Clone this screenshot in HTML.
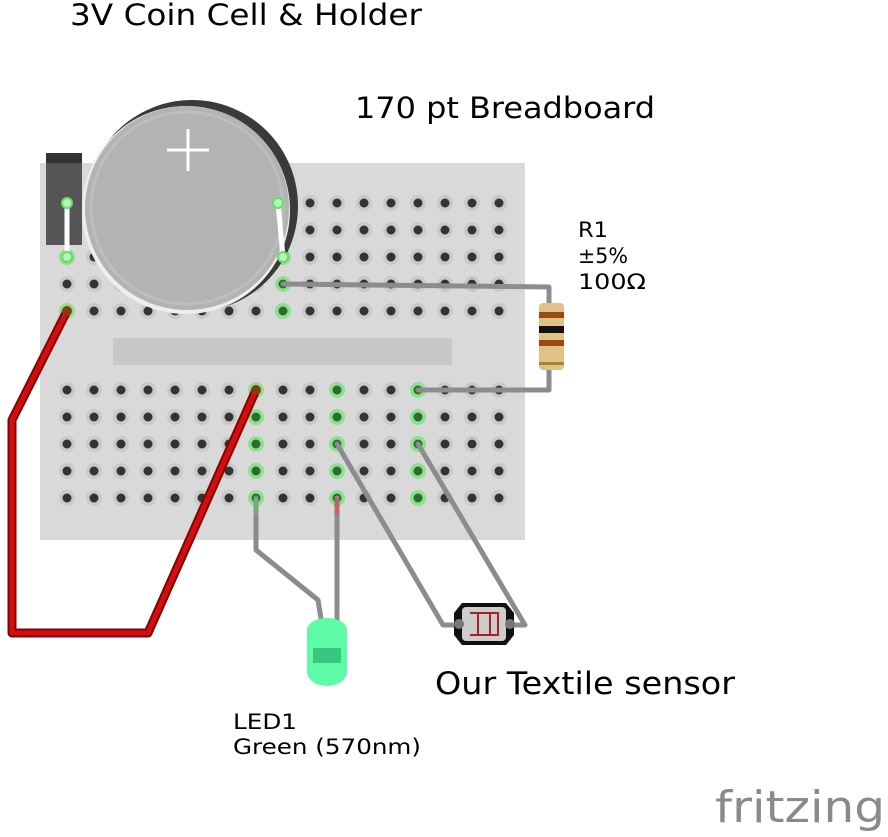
<!DOCTYPE html>
<html><head><style>body{margin:0;background:#fff}svg{display:block}</style></head><body>
<svg width="888" height="837" xmlns="http://www.w3.org/2000/svg" font-family="DejaVu Sans, Liberation Sans, sans-serif">
<rect x="40" y="163" width="485" height="377" fill="#d9d9d9"/>
<rect x="113" y="338" width="339" height="27" fill="#c8c8c8"/>
<g id="holegrid"></g>
<!-- battery -->
<rect x="46" y="153" width="36" height="92" fill="#555"/>
<rect x="46" y="153" width="36" height="10" fill="#333"/>
<circle cx="192" cy="206" r="106" fill="#3a3a3a"/>
<circle cx="186" cy="210" r="104" fill="#eee"/>
<circle cx="187" cy="208" r="102" fill="#b3b3b3"/>
<circle cx="187" cy="208" r="96" fill="none" stroke="#bdbdbd" stroke-width="3"/>
<path d="M167 150h42M188 129v42" stroke="#fff" stroke-width="3"/>
<line x1="67" y1="203" x2="67" y2="257" stroke="#fff" stroke-width="5"/>
<line x1="278" y1="203" x2="283" y2="257" stroke="#fff" stroke-width="5"/>
<g fill="#b5f5b5" stroke="#6d6" stroke-width="2"><circle cx="67" cy="203" r="5"/><circle cx="278" cy="203" r="5"/><circle cx="67" cy="257" r="5"/><circle cx="283" cy="257" r="5"/></g>
<g fill="none" stroke="#8c8c8c" stroke-width="5" stroke-linejoin="round" stroke-linecap="round">
<polyline points="283,284 549,287 549,305"/>
<polyline points="549,366 549,390 418,390"/>
<polyline points="256,498 256,550 318,600 322,625"/>
<polyline points="337,498 337,625"/>
<polyline points="337,444 443,625 458,625"/>
<polyline points="418,444 525,625 510,625"/>
</g>
<line x1="337" y1="498" x2="337" y2="515" stroke="#b66" stroke-width="5"/>
<line x1="256" y1="498" x2="256" y2="515" stroke="#7a7" stroke-width="5"/>
<rect x="539" y="303" width="25" height="67" rx="4" fill="#e2c08a"/>
<rect x="539" y="312" width="25" height="6" fill="#9a4a10"/>
<rect x="539" y="326" width="25" height="7" fill="#111"/>
<rect x="539" y="340" width="25" height="6" fill="#9a4a10"/>
<rect x="539" y="362" width="25" height="3" fill="#9c8a30"/>
<path d="M307 630a20 12 0 0 1 40 0v42a20 14 0 0 1 -40 0z" fill="#5dfba6"/>
<rect x="313" y="648" width="28" height="15" fill="#3cc57f"/>
<path d="M462 603h44l8 10v22l-8 10h-44l-8-10v-22z" fill="#111"/>
<rect x="462" y="607" width="44" height="34" rx="4" fill="#ccc"/>
<path d="M470 613h28v22h-28M478 613v22M490 613v22" fill="none" stroke="#a22" stroke-width="2"/>
<circle cx="459" cy="624" r="5" fill="#777"/><circle cx="510" cy="624" r="5" fill="#777"/>
<polyline points="67,311 12,420 12,633 148,633 256,390" fill="none" stroke="#800" stroke-width="9" stroke-linejoin="round"/>
<polyline points="67,311 12,420 12,633 148,633 256,390" fill="none" stroke="#d01010" stroke-width="5" stroke-linejoin="round"/>
<g fill="#8a3a10"><circle cx="67" cy="311" r="5"/><circle cx="256" cy="390" r="5"/></g>
<g fill="#000">
<text x="70" y="25" font-size="29" textLength="352" lengthAdjust="spacingAndGlyphs">3V Coin Cell &amp; Holder</text>
<text x="355" y="118" font-size="29" textLength="300" lengthAdjust="spacingAndGlyphs">170 pt Breadboard</text>
<text x="578" y="237" font-size="21" textLength="30" lengthAdjust="spacingAndGlyphs">R1</text>
<text x="578" y="263" font-size="21" textLength="50" lengthAdjust="spacingAndGlyphs">±5%</text>
<text x="578" y="289" font-size="21" textLength="68" lengthAdjust="spacingAndGlyphs">100Ω</text>
<text x="435" y="694" font-size="31" textLength="300" lengthAdjust="spacingAndGlyphs">Our Textile sensor</text>
<text x="233" y="729" font-size="21" textLength="64" lengthAdjust="spacingAndGlyphs">LED1</text>
<text x="233" y="754" font-size="21" textLength="188" lengthAdjust="spacingAndGlyphs">Green (570nm)</text>
</g>
<text x="715" y="822" font-size="44" fill="#8a8a8a" textLength="170" lengthAdjust="spacingAndGlyphs">fritzing</text>
</svg>
<script>
(function(){
var ns="http://www.w3.org/2000/svg",g=document.getElementById("holegrid");
var green={};
[[0,0],[0,1],[0,2],[0,4],[8,2],[8,3],[8,4]].forEach(function(a){green["t"+a[0]+"_"+a[1]]=1;});
[7,10,13].forEach(function(c){for(var r=0;r<5;r++)green["b"+c+"_"+r]=1;});
function hole(x,y,gr){
 var c1=document.createElementNS(ns,"circle");c1.setAttribute("cx",x);c1.setAttribute("cy",y);c1.setAttribute("r",8);c1.setAttribute("fill",gr?"#8de08d":"#c9c9c9");g.appendChild(c1);
 var c2=document.createElementNS(ns,"circle");c2.setAttribute("cx",x);c2.setAttribute("cy",y);c2.setAttribute("r",4.5);c2.setAttribute("fill",gr?"#2e6b2e":"#333");g.appendChild(c2);
}
for(var c=0;c<17;c++){
 for(var r=0;r<5;r++){
  hole(67+27*c,203+27*r,green["t"+c+"_"+r]);
  hole(67+27*c,390+27*r,green["b"+c+"_"+r]);
 }
}
})();
</script>
</body></html>
